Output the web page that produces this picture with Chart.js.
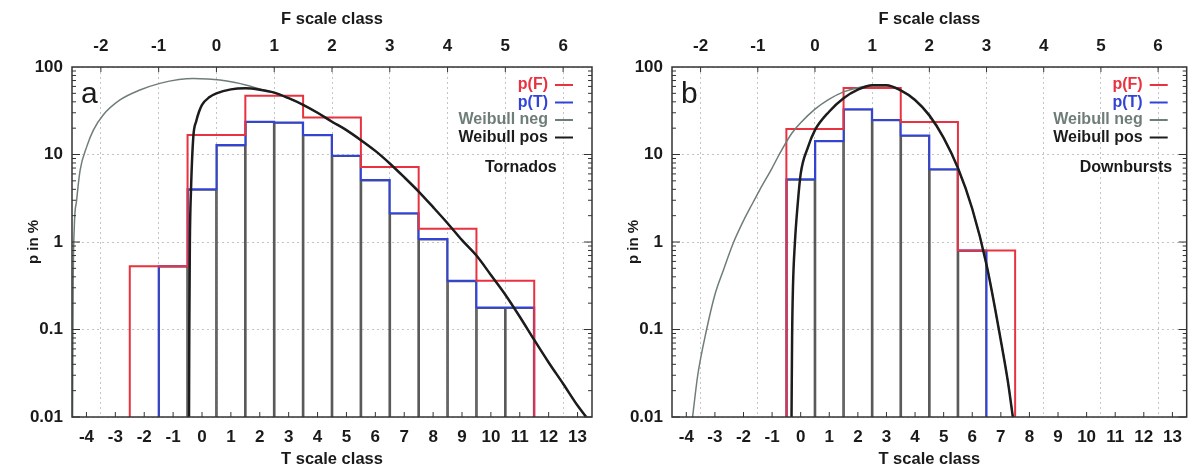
<!DOCTYPE html>
<html>
<head>
<meta charset="utf-8">
<script src="https://cdn.jsdelivr.net/npm/chart.js@4.4.0/dist/chart.umd.min.js"></script>
<style>
  body { margin: 0; background: #fff; }
  #wrap { position: relative; width: 1192px; height: 469px; overflow: hidden; }
  canvas { position: absolute; top: 0; }
</style>
</head>
<body>
<div id="wrap">
  <canvas id="chartA" width="600" height="469" style="left:0"></canvas>
  <canvas id="chartB" width="592" height="469" style="left:600px"></canvas>
</div>
<script>
// ---- Tornados (panel a) ----
const tornadoFClass = [-1, 0, 1, 2, 3, 4, 5];
const tornadoPF = [0.53, 16.7, 47, 26.5, 7.2, 1.42, 0.36];
const tornadoTClass = [-1, 0, 1, 2, 3, 4, 5, 6, 7, 8, 9, 10, 11];
const tornadoPT = [0.53, 4.0, 12.8, 23.7, 23.2, 16.7, 9.7, 5.1, 2.13, 1.08, 0.36, 0.178, 0.178];
const tornadoNegT = [-4.48, -4.46, -4.42, -4.34, -4.22, -3.99, -3.76, -3.42, -2.84, -2.15, -1.46, -0.8, -0.3, 0.2, 0.62, 1.1, 1.55, 2.0, 2.5,
  3, 3.5, 4, 4.5, 5, 5.5, 6, 6.5, 7, 7.5, 8, 8.5, 9, 9.5, 10, 10.5, 11, 11.5, 12, 12.5, 13, 13.3];
const tornadoNegP = [0.01, 0.3, 1.5, 3, 6.6, 12.3, 19, 28.3, 42, 54.6, 65, 72, 74, 73, 71, 67, 62, 56, 51,
  44, 37, 30, 23.7, 19, 14.6, 11, 7.9, 5.5, 3.77, 2.5, 1.64, 1.05, 0.7, 0.42, 0.25, 0.14, 0.076, 0.042, 0.024, 0.0135, 0.01];
const tornadoPosT = [-0.45, -0.44, -0.42, -0.38, -0.3, -0.2, -0.1, 0, 0.25, 0.5, 1, 1.5, 2, 2.5,
  3, 3.5, 4, 4.5, 5, 5.5, 6, 6.5, 7, 7.5, 8, 8.5, 9, 9.5, 10, 10.5, 11, 11.5, 12, 12.5, 13, 13.3];
const tornadoPosP = [0.01, 0.1, 1, 4, 16, 24, 31, 37, 45, 50, 55.5, 57, 55, 51,
  44, 37, 30, 23.7, 19, 14.6, 11, 7.9, 5.5, 3.77, 2.5, 1.64, 1.05, 0.7, 0.42, 0.25, 0.14, 0.076, 0.042, 0.024, 0.0135, 0.01];

// ---- Downbursts (panel b) ----
const downburstFClass = [0, 1, 2, 3];
const downburstPF = [19.5, 57.5, 23.5, 0.8];
const downburstTClass = [0, 1, 2, 3, 4, 5, 6];
const downburstPT = [5.2, 14.3, 33, 24.8, 16.5, 6.8, 0.8];
const downburstNegT = [-3.78, -3.6, -3.29, -3.0, -2.7, -2.37, -2.0, -1.7, -1.44, -1.0, -0.75, -0.31, 0, 0.5, 1, 1.5, 2, 2.5,
  3, 3.5, 4, 4.5, 5, 5.5, 6, 6.5, 7, 7.25, 7.42];
const downburstNegP = [0.01, 0.03, 0.1, 0.25, 0.48, 0.95, 1.75, 2.7, 3.9, 7, 10, 17.5, 23, 33, 43, 52, 58, 61,
  61, 54, 42, 28, 15.5, 7, 2.4, 0.55, 0.075, 0.025, 0.01];
const downburstPosT = [-0.32, -0.3, -0.27, -0.2, -0.1, 0, 0.25, 0.5, 1, 1.5, 2, 2.5,
  3, 3.5, 4, 4.5, 5, 5.5, 6, 6.5, 7, 7.25, 7.42];
const downburstPosP = [0.01, 0.08, 0.3, 1, 2.8, 6, 12, 19, 31, 44, 55, 62,
  62, 54, 42, 28, 15.5, 7, 2.4, 0.55, 0.075, 0.025, 0.01];

// ---- axes ----
const tTicks = [-4, -3, -2, -1, 0, 1, 2, 3, 4, 5, 6, 7, 8, 9, 10, 11, 12, 13];
const fTicks = [-2, -1, 0, 1, 2, 3, 4, 5, 6];
const pTicks = [0.01, 0.1, 1, 10, 100];
const pTickLabels = ['0.01', '0.1', '1', '10', '100'];
const P_MIN = 0.01;

const COLORS = {
  red: '#e8323f',
  blue: '#3244d6',
  neg: '#6f7d79',
  pos: '#1c1c1c',
  box: '#5a5a5a',
  grid: '#c4c4c4',
  text: '#1a1a1a'
};
const FONT = 'Liberation Sans, Arial, sans-serif';
Chart.defaults.font.family = FONT;

/**
 * Histogram steps as points: first edge from the bottom, one point per
 * bin at its left edge, the last right edge and back to the bottom.
 */
function stepPoints(leftEdges, width, values) {
  const last = leftEdges.length - 1;
  const pts = [{ x: leftEdges[0], y: P_MIN }];
  values.forEach((v, i) => pts.push({ x: leftEdges[i], y: v }));
  pts.push({ x: leftEdges[last] + width, y: values[last] });
  pts.push({ x: leftEdges[last] + width, y: P_MIN });
  return pts;
}

function zip(xs, ys) {
  return xs.map((x, i) => ({ x, y: ys[i] }));
}

// Frame, inward tick marks, panel letter, legend and caption
const panelDecor = {
  id: 'panelDecor',
  afterDraw(chart, args, opts) {
    const { ctx, chartArea: a, scales } = chart;
    ctx.save();
    const seg = (x1, y1, x2, y2) => {
      ctx.beginPath(); ctx.moveTo(x1, y1); ctx.lineTo(x2, y2); ctx.stroke();
    };
    ctx.strokeStyle = '#333';
    ctx.lineWidth = 1;
    tTicks.forEach(t => { const x = scales.x.getPixelForValue(t); seg(x, a.bottom, x, a.bottom - 5); });
    fTicks.forEach(f => { const x = scales.x2.getPixelForValue(f); seg(x, a.top, x, a.top + 5); });
    [0.01, 0.1, 1, 10].forEach(dec => {
      for (let m = 1; m <= 9; m++) {
        const y = scales.y.getPixelForValue(dec * m);
        const len = m === 1 ? 8 : 4;
        seg(a.left, y, a.left + len, y);
        seg(a.right, y, a.right - len, y);
      }
    });
    ctx.lineWidth = 1.5;
    ctx.strokeRect(a.left, a.top, a.right - a.left, a.bottom - a.top);

    ctx.fillStyle = COLORS.text;
    ctx.font = '30px ' + FONT;
    ctx.textBaseline = 'alphabetic';
    ctx.textAlign = 'left';
    ctx.fillText(opts.letter, a.left + 9, a.top + 36);

    ctx.font = 'bold 16px ' + FONT;
    ctx.textBaseline = 'middle';
    const items = [
      { text: 'p(F)', color: COLORS.red },
      { text: 'p(T)', color: COLORS.blue },
      { text: 'Weibull neg', color: COLORS.neg },
      { text: 'Weibull pos', color: COLORS.pos }
    ];
    items.forEach((it, i) => {
      const y = a.top + 18 + i * 17.5;
      ctx.fillStyle = it.color;
      ctx.textAlign = 'right';
      ctx.fillText(it.text, a.right - 44, y);
      ctx.strokeStyle = it.color;
      ctx.lineWidth = 2;
      seg(a.right - 37, y, a.right - 19, y);
    });
    ctx.fillStyle = COLORS.text;
    ctx.textAlign = 'left';
    ctx.fillText(opts.caption, a.right - 107, a.top + 101);
    ctx.restore();
  }
};

function makePanel(canvasId, d) {
  const tickFont = { size: 17, weight: 'bold' };
  const titleFont = { size: 16.5, weight: 'bold' };
  return new Chart(document.getElementById(canvasId), {
    type: 'line',
    data: {
      datasets: [
        {
          type: 'bar',
          data: zip(d.tClass, d.pT),
          backgroundColor: 'rgba(0,0,0,0)',
          borderColor: COLORS.box,
          borderWidth: 1,
          barPercentage: 1,
          categoryPercentage: 1,
          order: 6
        },
        {
          data: stepPoints(d.tClass.map(t => t - 0.5), 1, d.pT),
          borderColor: COLORS.blue, borderWidth: 2, stepped: true, pointRadius: 0, order: 5
        },
        {
          data: stepPoints(d.fClass.map(f => 2 * f - 0.5), 2, d.pF),
          borderColor: COLORS.red, borderWidth: 2, stepped: true, pointRadius: 0, order: 4
        },
        {
          data: zip(d.negT, d.negP),
          borderColor: COLORS.neg, borderWidth: 1.5, cubicInterpolationMode: 'monotone', pointRadius: 0, order: 3
        },
        {
          data: zip(d.posT, d.posP),
          borderColor: COLORS.pos, borderWidth: 2.5, cubicInterpolationMode: 'monotone', pointRadius: 0, order: 2
        }
      ]
    },
    options: {
      responsive: false,
      animation: false,
      events: [],
      layout: { padding: { right: d.padRight } },
      plugins: {
        legend: { display: false },
        tooltip: { enabled: false },
        panelDecor: { letter: d.letter, caption: d.caption }
      },
      scales: {
        x: {
          type: 'linear', position: 'bottom', min: -4.5, max: 13.5, offset: false,
          afterBuildTicks: s => { s.ticks = tTicks.map(v => ({ value: v })); },
          afterFit: s => { s.height = 52; },
          grid: { display: false, drawTicks: false, offset: false },
          border: { display: false },
          ticks: { color: COLORS.text, font: tickFont, padding: 10, maxRotation: 0, autoSkip: false, callback: v => String(v) },
          title: { display: true, text: 'T scale class', color: COLORS.text, font: titleFont, padding: { top: 0, bottom: 0 } }
        },
        x2: {
          type: 'linear', position: 'top', min: -2.5, max: 6.5, offset: false,
          afterBuildTicks: s => { s.ticks = fTicks.map(v => ({ value: v })); },
          afterFit: s => { s.height = 67; },
          grid: { display: true, drawTicks: false, color: COLORS.grid, lineWidth: 1, offset: false },
          border: { display: false, dash: [2, 3] },
          ticks: { color: COLORS.text, font: tickFont, padding: 10, maxRotation: 0, autoSkip: false, callback: v => String(v) },
          title: { display: true, text: 'F scale class', color: COLORS.text, font: titleFont, padding: { top: 10, bottom: 0 } }
        },
        y: {
          type: 'logarithmic', min: 0.01, max: 100, beginAtZero: false,
          afterBuildTicks: s => { s.ticks = pTicks.map(v => ({ value: v })); },
          afterFit: s => { s.width = 72; },
          grid: { display: true, drawTicks: false, color: COLORS.grid, lineWidth: 1 },
          border: { display: false, dash: [2, 3] },
          ticks: { color: COLORS.text, font: tickFont, padding: 9, autoSkip: false, callback: (v, i) => pTickLabels[i] },
          title: { display: true, text: 'p in %', color: COLORS.text, font: { size: 15, weight: 'bold' }, padding: { top: 25, bottom: 0 } }
        }
      }
    },
    plugins: [panelDecor]
  });
}

makePanel('chartA', {
  letter: 'a', caption: 'Tornados', padRight: 8,
  fClass: tornadoFClass, pF: tornadoPF, tClass: tornadoTClass, pT: tornadoPT,
  negT: tornadoNegT, negP: tornadoNegP, posT: tornadoPosT, posP: tornadoPosP
});
makePanel('chartB', {
  letter: 'b', caption: 'Downbursts', padRight: 3,
  fClass: downburstFClass, pF: downburstPF, tClass: downburstTClass, pT: downburstPT,
  negT: downburstNegT, negP: downburstNegP, posT: downburstPosT, posP: downburstPosP
});
</script>
</body>
</html>
